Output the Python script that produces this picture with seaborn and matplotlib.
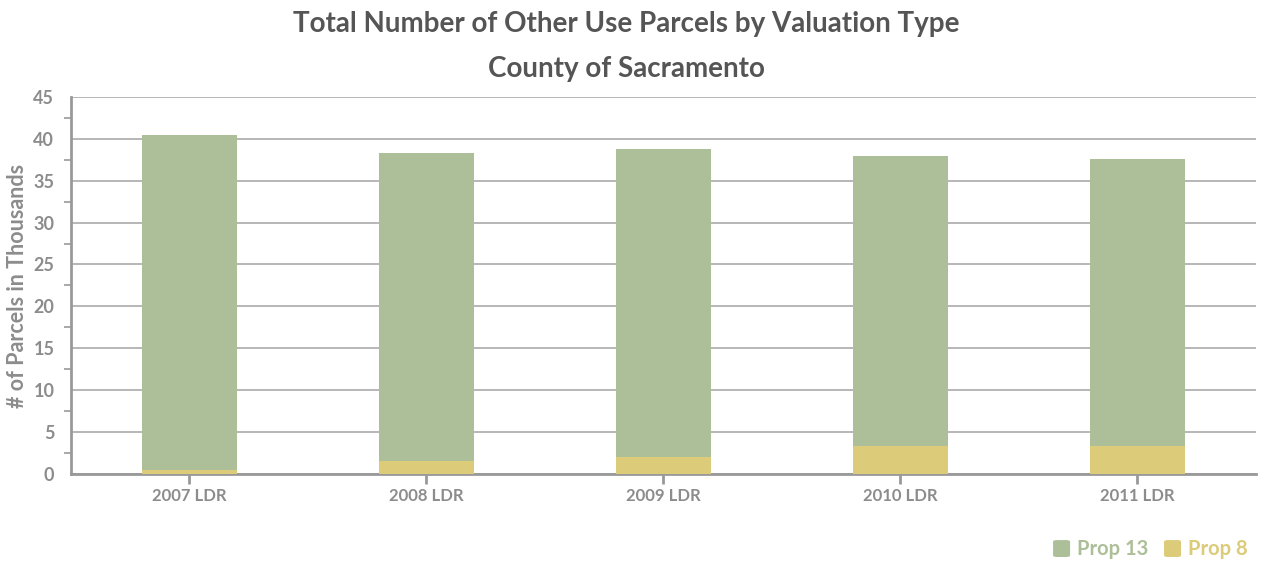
import numpy as np
import pandas as pd
import seaborn as sns
import matplotlib.pyplot as plt
from matplotlib.ticker import MultipleLocator
from matplotlib.patches import FancyBboxPatch

years = ["2007 LDR", "2008 LDR", "2009 LDR", "2010 LDR", "2011 LDR"]
prop13 = [39.9, 36.8, 36.8, 34.6, 34.3]
prop8 = [0.5, 1.5, 2.0, 3.3, 3.3]

green = "#adbf98"
yellow = "#dccb78"
gray = "#8c8c8c"

sns.set_style("white")
plt.rcParams["font.family"] = ["Lato", "DejaVu Sans"]

df = pd.DataFrame({"year": years, "p13": prop13, "p8": prop8})
df["total"] = df["p13"] + df["p8"]

fig = plt.figure(figsize=(12.61, 5.63), dpi=100)
ax = fig.add_axes([0.0563, 0.158, 0.9397, 0.670])

ax.yaxis.grid(True, color="#aaaaaa", linewidth=1.2)
ax.set_axisbelow(True)

sns.barplot(data=df, x="year", y="total", color=green, width=0.4,
            saturation=1, linewidth=0, ax=ax, zorder=2)
sns.barplot(data=df, x="year", y="p8", color=yellow, width=0.4,
            saturation=1, linewidth=0, ax=ax, zorder=3)

ax.set_xlim(-0.5, 4.5)
ax.set_ylim(0, 45)
ax.yaxis.set_major_locator(MultipleLocator(5))
ax.yaxis.set_minor_locator(MultipleLocator(2.5))

for s in ["top", "right"]:
    ax.spines[s].set_visible(False)
for s in ["left", "bottom"]:
    ax.spines[s].set_color("#999999")
    ax.spines[s].set_linewidth(2)

ax.tick_params(axis="y", which="major", length=11, width=1.5, color="#999999",
               labelsize=13, labelcolor=gray, pad=1)
ax.tick_params(axis="y", which="minor", length=5, width=1.2, color="#999999",
               left=True)
ax.tick_params(axis="x", length=7, width=2, color="#999999", labelsize=12,
               labelcolor=gray, pad=3, bottom=True)
for lbl in ax.get_xticklabels() + ax.get_yticklabels():
    lbl.set_fontweight("bold")

ax.set_xlabel("")
ax.set_ylabel("# of Parcels in Thousands", fontsize=15.5, color=gray,
              fontweight="bold", labelpad=4)

fig.text(0.497, 0.957, "Total Number of Other Use Parcels by Valuation Type",
         ha="center", va="center", fontsize=20, color="#555555", fontweight="bold")
fig.text(0.497, 0.877, "County of Sacramento",
         ha="center", va="center", fontsize=20, color="#555555", fontweight="bold")

# legend
items = [("Prop 13", green, 0.8351), ("Prop 8", yellow, 0.9231)]
for label, col, x0 in items:
    box = FancyBboxPatch((x0, 0.0107), 0.0135, 0.030,
                         boxstyle="round,pad=0,rounding_size=0.003",
                         transform=fig.transFigure, facecolor=col,
                         edgecolor="none")
    fig.patches.append(box)
    fig.text(x0 + 0.0192, 0.0255, label, ha="left", va="center",
             fontsize=14.5, color=col, fontweight="bold")

fig.savefig("out.png", dpi=100)
